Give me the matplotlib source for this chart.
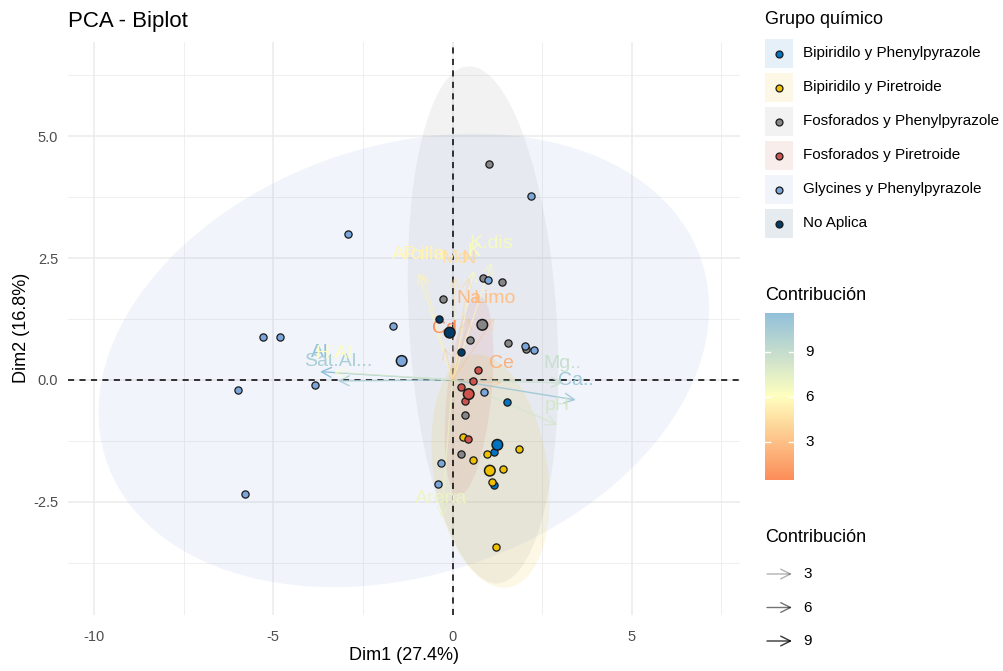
import matplotlib
matplotlib.use("Agg")
import matplotlib.pyplot as plt
import numpy as np
from matplotlib.colors import LinearSegmentedColormap, Normalize
from matplotlib.patches import Polygon, Rectangle

plt.rcParams['font.family'] = ['Liberation Sans', 'DejaVu Sans']

# grupos quimicos y colores (paleta jco)
grupos = ["Bipiridilo y Phenylpyrazole", "Bipiridilo y Piretroide",
          "Fosforados y Phenylpyrazole", "Fosforados y Piretroide",
          "Glycines y Phenylpyrazole", "No Aplica"]
colores = ["#0073C2", "#EFC000", "#868686", "#CD534C", "#7AA6DC", "#003C67"]

# individuos (Dim1, Dim2) por grupo
bip_phe_x = [1.52, 1.16, 1.15]
bip_phe_y = [-0.45, -1.48, -2.16]
bip_pir_x = [0.30, 0.96, 1.84, 0.57, 1.42, 1.10, 1.20]
bip_pir_y = [-1.17, -1.52, -1.41, -1.65, -1.82, -2.09, -3.42]
fos_phe_x = [0.85, 1.38, -0.26, 0.48, 1.56, 2.06, 0.35, 0.23, 1.03]
fos_phe_y = [2.10, 2.01, 1.65, 0.82, 0.76, 0.64, -0.72, -1.52, 4.43]
fos_pir_x = [0.71, 0.56, 0.24, 0.35, 0.43]
fos_pir_y = [0.20, -0.02, -0.14, -0.44, -1.21]
gly_phe_x = [-2.93, -1.65, 2.27, 2.02, -3.85, 0.89, -0.31, -0.40, -5.30, -4.82, -6.00, -5.79, 1.00, 2.18]
gly_phe_y = [2.99, 1.11, 0.61, 0.70, -0.10, -0.25, -1.70, -2.14, 0.88, 0.88, -0.20, -2.34, 2.04, 3.77]
no_apl_x = [-0.39, 0.23]
no_apl_y = [1.26, 0.58]

ind_x = [bip_phe_x, bip_pir_x, fos_phe_x, fos_pir_x, gly_phe_x, no_apl_x]
ind_y = [bip_phe_y, bip_pir_y, fos_phe_y, fos_pir_y, gly_phe_y, no_apl_y]

# centroides
cen_x = [1.25, 1.04, 0.83, 0.45, -1.42, -0.08]
cen_y = [-1.33, -1.86, 1.13, -0.29, 0.39, 0.97]

# elipses (95%): centro, semiextension x / y, correlacion
eli_grupo = ["Glycines y Phenylpyrazole", "Fosforados y Phenylpyrazole",
             "Bipiridilo y Piretroide", "Fosforados y Piretroide"]
eli_cx = [-1.36, 0.85, 1.06, 0.46]
eli_cy = [0.40, 1.13, -1.87, -0.32]
eli_sx = [8.52, 2.10, 1.65, 0.68]
eli_sy = [4.65, 5.30, 2.39, 2.04]
eli_rho = [0.23, -0.18, -0.23, 0.40]

# variables (flechas)
variables = ["Al", "Sat.Al...", "H.Al", "Ca..", "Mg..", "pH", "Arena", "K.dis", "K",
             "Arcilla", "P.dis", "Mo", "N", "Limo", "Na", "Ce", "Cd"]
var_x = [-3.70, -3.20, -3.31, 3.44, 3.07, 2.93, -0.31, 1.09, 0.59,
         -0.95, -0.84, 0.06, 0.45, 1.17, 0.47, 1.37, -0.22]
var_y = [0.17, -0.02, 0.16, -0.41, -0.06, -0.92, -2.83, 2.40, 2.25,
         2.19, 2.19, 2.11, 2.11, 1.27, 1.27, -0.06, 0.66]
contrib = [11.56, 10.3, 6.2, 10.8, 8.8, 8.2, 7.0, 6.5, 6.3,
           5.6, 5.4, 4.6, 4.0, 3.0, 2.6, 2.2, 0.5]

pct_dim1 = 27.4
pct_dim2 = 16.8

W, H = 1004, 671
fig = plt.figure(figsize=(W / 100, H / 100), dpi=100)
ax = fig.add_axes([68 / W, 1 - 615 / H, 672 / W, 573 / H])
ax.set_xlim(-10.73, 8.02)
ax.set_ylim(-4.82, 6.93)

ax.set_xticks([-10, -5, 0, 5])
ax.set_xticklabels(["-10", "-5", "0", "5"])
ax.set_yticks([-2.5, 0, 2.5, 5.0])
ax.set_yticklabels(["-2.5", "0.0", "2.5", "5.0"])
ax.set_xticks([-7.5, -2.5, 2.5, 7.5], minor=True)
ax.set_yticks([-3.75, -1.25, 1.25, 3.75, 6.25], minor=True)
ax.grid(which='major', color='#EBEBEB', lw=1.1)
ax.grid(which='minor', color='#EBEBEB', lw=0.55)
ax.set_axisbelow(True)
ax.tick_params(which='both', length=0, labelsize=10.5, labelcolor='#4D4D4D')
ax.tick_params(axis='x', pad=11)
ax.tick_params(axis='y', pad=7)
for s in ax.spines.values():
    s.set_visible(False)

# elipses
t = np.linspace(0, 2 * np.pi, 240)
for g, cx, cy, sx, sy, rho in zip(eli_grupo, eli_cx, eli_cy, eli_sx, eli_sy, eli_rho):
    ex = cx + sx * np.cos(t)
    ey = cy + sy * (rho * np.cos(t) + np.sqrt(1 - rho ** 2) * np.sin(t))
    c = colores[grupos.index(g)]
    ax.add_patch(Polygon(np.column_stack([ex, ey]), closed=True, facecolor=c,
                         alpha=0.1, edgecolor='none', zorder=1))

ax.axhline(0, color='black', lw=1.1, ls=(0, (4, 3.5)), zorder=2)
ax.axvline(0, color='black', lw=1.1, ls=(0, (4, 3.5)), zorder=2)

# flechas de variables
cmap = LinearSegmentedColormap.from_list("contrib", ["#FC8D59", "#FFFFBF", "#91BFDB"])
norm = Normalize(min(contrib), max(contrib))
for name, vx, vy, c in zip(variables, var_x, var_y, contrib):
    col = cmap(norm(c))
    a = 0.15 + 0.85 * norm(c)
    ax.annotate('', xy=(vx, vy), xytext=(0, 0),
                arrowprops=dict(arrowstyle='->,head_length=0.7,head_width=0.35',
                                color=col, alpha=a, lw=1.0, shrinkA=0, shrinkB=0),
                zorder=3)
    ax.annotate(name, xy=(vx, vy), xytext=(0, 13.7), textcoords='offset points',
                ha='center', va='center', fontsize=14, color=col, zorder=3)

# individuos y centroides
for gx, gy, c in zip(ind_x, ind_y, colores):
    ax.plot(gx, gy, 'o', ms=5.2, mfc=c, mec='#1a1a1a', mew=0.9, ls='none', zorder=4)
ax.scatter(cen_x, cen_y, s=58, c=colores, marker='o', edgecolors='#1a1a1a',
           linewidths=1.1, zorder=5)

fig.text(68 / W, 1 - 22 / H, "PCA - Biplot", fontsize=16, va='center', ha='left')
fig.text(404 / W, 1 - 655 / H, "Dim1 (%.1f%%)" % pct_dim1, fontsize=13, ha='center', va='center')
fig.text(22 / W, 1 - 328 / H, "Dim2 (%.1f%%)" % pct_dim2, fontsize=13, ha='center', va='center', rotation=90)

# leyendas (coordenadas en pixeles)
lg = fig.add_axes([0, 0, 1, 1], zorder=-1)
lg.set_xlim(0, W)
lg.set_ylim(H, 0)
lg.axis('off')

lg.text(765, 19, "Grupo químico", fontsize=13, va='center', ha='left')
for i, (g, c) in enumerate(zip(grupos, colores)):
    y0 = 39 + i * 34
    lg.add_patch(Rectangle((765, y0), 28, 29, facecolor=c, alpha=0.1, edgecolor='none'))
    lg.plot(779, y0 + 14.5, 'o', ms=5, mfc=c, mec='#1a1a1a', mew=0.9)
    lg.text(803, y0 + 14.5, g, fontsize=11, va='center', ha='left')

lg.text(765, 295, "Contribución", fontsize=13, va='center', ha='left')
cax = fig.add_axes([765 / W, 1 - 480 / H, 29 / W, 167 / H])
grad = np.linspace(min(contrib), max(contrib), 256)[:, None]
cax.imshow(grad, aspect='auto', cmap=cmap, norm=norm, origin='lower',
           extent=[0, 1, min(contrib), max(contrib)])
cax.set_xlim(0, 1)
cax.set_ylim(min(contrib), max(contrib))
cax.set_xticks([])
cax.set_yticks([])
for s in cax.spines.values():
    s.set_visible(False)
for v in [3, 6, 9]:
    cax.plot([0, 0.18], [v, v], color='white', lw=1)
    cax.plot([0.82, 1], [v, v], color='white', lw=1)
    lg.text(805, 480 - (v - min(contrib)) / (max(contrib) - min(contrib)) * 167, str(v),
            fontsize=11, va='center', ha='left')

lg.text(765, 537, "Contribución", fontsize=13, va='center', ha='left')
for i, v in enumerate([3, 6, 9]):
    yy = 574 + i * 33.5
    lg.annotate('', xy=(792, yy), xytext=(767, yy),
                arrowprops=dict(arrowstyle='->,head_length=0.7,head_width=0.35',
                                color='black', alpha=0.1 + 0.9 * norm(v), lw=1.0,
                                shrinkA=0, shrinkB=0))
    lg.text(803, yy, str(v), fontsize=11, va='center', ha='left')

fig.savefig("out.png", dpi=100)
